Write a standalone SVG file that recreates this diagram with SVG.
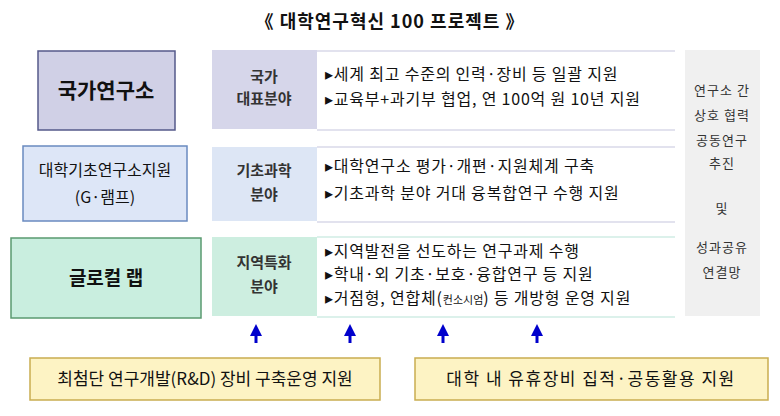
<svg xmlns="http://www.w3.org/2000/svg" width="780" height="416" viewBox="0 0 780 416">
<style>
text{font-family:"Noto Sans CJK KR","Noto Sans",sans-serif;fill:#111}
.t{font-size:16px;letter-spacing:0.8px}
.c{font-size:15px;text-anchor:middle;font-weight:bold;fill:#333}
.r{font-size:13px;text-anchor:middle;fill:#333;letter-spacing:1px}
.b{font-size:17px;text-anchor:middle}
.ln{stroke:#d8d8e8;stroke-width:1.5}
.ar{stroke:#0000cc;stroke-width:3;fill:none}
</style>
<defs><marker id="ah" markerWidth="4" markerHeight="4" refX="2" refY="2" orient="auto"><path d="M0,0L4,2L0,4Z" fill="#0000cc"/></marker></defs>
<rect width="780" height="416" fill="#fff"/>
<text x="390" y="28" font-size="18" font-weight="bold" text-anchor="middle" letter-spacing="1">《 대학연구혁신 100 프로젝트 》</text>
<g id="n1"><rect x="38" y="51" width="137" height="79" fill="#d0d0e6" stroke="#555a8a" stroke-width="1.5"/><text x="106" y="98" font-size="21" font-weight="bold" text-anchor="middle" fill="#222">국가연구소</text></g>
<g id="n2"><rect x="23" y="146" width="164" height="75" fill="#dde6f7" stroke="#6a8ac0" stroke-width="1.5"/><text x="105" y="176" font-size="16" text-anchor="middle">대학기초연구소지원</text><text x="105" y="203" font-size="16" text-anchor="middle">(G·램프)</text></g>
<g id="n3"><rect x="11" y="238" width="190" height="80" fill="#c9eedf" stroke="#5a9a70" stroke-width="1.5"/><text x="106" y="285" font-size="19" font-weight="bold" text-anchor="middle" fill="#222">글로컬  랩</text></g>
<g id="c1"><rect x="212" y="50" width="105" height="79" fill="#d6d6ea"/><text class="c" x="264" y="82">국가</text><text class="c" x="264" y="104">대표분야</text></g>
<g id="c2"><rect x="212" y="147" width="105" height="74" fill="#dde6f5"/><text class="c" x="264" y="176">기초과학</text><text class="c" x="264" y="200">분야</text></g>
<g id="c3"><rect x="212" y="237" width="105" height="79" fill="#cdeee0"/><text class="c" x="264" y="268">지역특화</text><text class="c" x="264" y="292">분야</text></g>
<g id="d1"><line class="ln" x1="317" y1="51" x2="675" y2="51"/><line class="ln" x1="317" y1="130" x2="675" y2="130"/><text class="t" x="325" y="80">▸세계 최고 수준의 인력·장비 등 일괄 지원</text><text class="t" x="325" y="105">▸교육부+과기부 협업, 연 100억 원 10년 지원</text></g>
<g id="d2"><line class="ln" x1="317" y1="147" x2="675" y2="147"/><line class="ln" x1="317" y1="222" x2="675" y2="222"/><text class="t" x="325" y="172" letter-spacing="1.8">▸대학연구소 평가·개편·지원체계 구축</text><text class="t" x="325" y="199">▸기초과학 분야 거대 융복합연구 수행 지원</text></g>
<g id="d3"><line x1="317" y1="237" x2="675" y2="237" stroke="#d0ece4" stroke-width="1.5"/><line x1="317" y1="317" x2="675" y2="317" stroke="#d0ece4" stroke-width="1.5"/><text class="t" x="325" y="257" letter-spacing="1.8">▸지역발전을 선도하는 연구과제 수행</text><text class="t" x="325" y="280" letter-spacing="1.8">▸학내·외 기초·보호·융합연구 등 지원</text><text class="t" x="325" y="304">▸거점형, 연합체(<tspan font-size="11" letter-spacing="0">컨소시엄</tspan>) 등 개방형 운영 지원</text></g>
<g id="side"><rect x="685" y="50" width="75" height="266" fill="#f0f0f0"/><text class="r" x="722" y="95">연구소 간</text><text class="r" x="722" y="120">상호 협력</text><text class="r" x="722" y="145">공동연구</text><text class="r" x="722" y="168">추진</text><text class="r" x="722" y="213">및</text><text class="r" x="722" y="252">성과공유</text><text class="r" x="722" y="277">연결망</text></g>
<g id="connectors"><path class="ar" d="M256,343V330" marker-end="url(#ah)"/><path class="ar" d="M350,343V330" marker-end="url(#ah)"/><path class="ar" d="M443,343V330" marker-end="url(#ah)"/><path class="ar" d="M537,343V330" marker-end="url(#ah)"/></g>
<g id="b1"><rect x="30" y="358" width="350" height="42" fill="#fdf3c4" stroke="#c9ad50" stroke-width="1.5"/><text class="b" x="205" y="385">최첨단 연구개발(R&amp;D) 장비 구축운영 지원</text></g>
<g id="b2"><rect x="415" y="358" width="353" height="42" fill="#fdf3c4" stroke="#c9ad50" stroke-width="1.5"/><text class="b" x="591" y="385" letter-spacing="1.5">대학 내 유휴장비 집적·공동활용 지원</text></g>
</svg>
